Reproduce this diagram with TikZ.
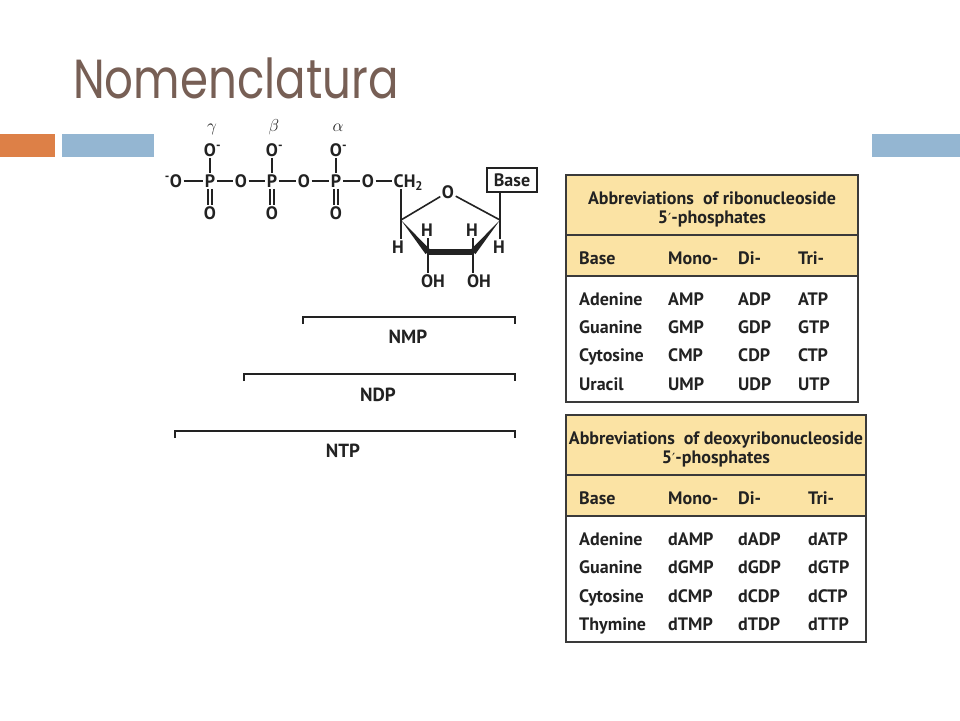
\documentclass[tikz,border=0pt]{standalone}
\usepackage{fontspec}
\setmainfont{PT Sans}
\newfontfamily\titlefont{Poppins}[FakeStretch=0.82]
\newfontfamily\dvfont{DejaVu Sans}
\newcommand{\pr}{{\dvfont\fontsize{14}{14}\selectfont\mdseries ′}}
\usetikzlibrary{calc}
\definecolor{orangebar}{HTML}{DD8047}
\definecolor{bluebar}{HTML}{94B6D2}
\definecolor{titlec}{HTML}{775F55}
\definecolor{tabfill}{HTML}{FBE3A4}
\definecolor{tabline}{HTML}{3A3A3A}
\definecolor{ink}{HTML}{222222}
\tikzset{
  lab/.style={font=\fontsize{18}{20}\selectfont\bfseries, text=ink, inner sep=1.5pt, text height=12.5pt, text depth=0pt},
  greek/.style={font=\fontsize{19}{20}\selectfont, text=ink, inner sep=0pt},
  bond/.style={draw=ink, line width=1.6pt},
  bracket/.style={draw=ink, line width=1.8pt},
  brlab/.style={font=\fontsize{19}{20}\selectfont\bfseries, text=ink, text height=13pt, text depth=0pt, inner sep=0pt},
  tabbox/.style={draw=tabline, line width=1.8pt},
  ttitle/.style={font=\fontsize{18}{19}\selectfont\bfseries, text=ink, inner sep=0pt, text height=12.5pt, text depth=0pt},
  tc/.style={font=\fontsize{18}{20}\selectfont\bfseries, text=ink, inner sep=0pt, text height=12.5pt, text depth=0pt, anchor=west}
}
\begin{document}
\begin{tikzpicture}[x=1pt,y=-1pt]
\useasboundingbox (0,0) rectangle (960,720);
\fill[white] (0,0) rectangle (960,720);
% bars
\fill[orangebar] (0,134) rectangle (55,157);
\fill[bluebar] (62,134) rectangle (154,157);
\fill[bluebar] (872,134) rectangle (960,157);
% title
\node[anchor=base west, inner sep=0, text depth=0pt, font=\titlefont\fontsize{55}{60}\selectfont, text=titlec] (title) at (73,98) {Nomenclatura};
% greek
\node[greek] (gam) at (212,129) {$\gamma$};
\node[greek] (bet) at (274,127) {$\beta$};
\node[greek] (alp) at (338,128) {$\alpha$};
% top O-
\node[lab] (O1t) at (210,150) {O\rlap{\textsuperscript{-}}};
\node[lab] (O2t) at (272,150) {O\rlap{\textsuperscript{-}}};
\node[lab] (O3t) at (336,150) {O\rlap{\textsuperscript{-}}};
% main row
\node[lab] (Om) at (176,181) {\llap{\textsuperscript{-}}O};
\node[lab] (P1) at (210,181) {P};
\node[lab] (O12) at (241,181) {O};
\node[lab] (P2) at (272,181) {P};
\node[lab] (O23) at (304,181) {O};
\node[lab] (P3) at (336,181) {P};
\node[lab] (O5) at (368,181) {O};
\node[lab, anchor=west] (CH) at (392,181) {CH\textsubscript{2}};
% bottom O
\node[lab] (O1b) at (210,213) {O};
\node[lab] (O2b) at (272,213) {O};
\node[lab] (O3b) at (336,213) {O};
% bonds
\draw[bond] (Om) -- (P1) -- (O12) -- (P2) -- (O23) -- (P3) -- (O5) -- (CH);
\foreach \t/\p/\b in {O1t/P1/O1b, O2t/P2/O2b, O3t/P3/O3b}{
  \draw[bond] (\t) -- (\p);
  \draw[bond] ([xshift=-2pt]\p.south) -- ([xshift=-2pt]\b.north);
  \draw[bond] ([xshift=2pt]\p.south) -- ([xshift=2pt]\b.north);
}
% ring
\coordinate (C4) at (401,220);
\coordinate (C1) at (500,220);
\coordinate (C3) at (428,252);
\coordinate (C2) at (473,252);
\node[lab] (rO) at (448,192) {O};
\draw[bond] (C4 |- CH.south) -- (C4);
\draw[bond] (C4) -- (rO) -- (C1);
\fill[ink] (C4) -- ($(C3)!3.2pt!90:(C4)$) -- ($(C3)!3.2pt!-90:(C4)$) -- cycle;
\fill[ink] (C1) -- ($(C2)!3.2pt!90:(C1)$) -- ($(C2)!3.2pt!-90:(C1)$) -- cycle;
\draw[draw=ink, line width=6pt] (C3) -- (C2);
\node[lab] (H4) at (398,247) {H};
\node[lab] (H3) at (427,230) {H};
\node[lab] (H2) at (472,230) {H};
\node[lab] (H1) at (499,247) {H};
\node[lab] (OH3) at (433,281) {OH};
\node[lab] (OH2) at (479,281) {OH};
\draw[bond] (C4) -- (C4 |- H4.north);
\draw[bond] (C1) -- (C1 |- H1.north);
\draw[bond] (C3) -- (C3 |- H3.south);
\draw[bond] (C2) -- (C2 |- H2.south);
\draw[bond] (C3) -- (C3 |- OH3.north);
\draw[bond] (C2) -- (C2 |- OH2.north);
\node[lab, draw=ink, line width=1.3pt, minimum width=50pt, minimum height=24pt] (base) at (512,180) {Base};
\draw[bond] (C1 |- base.south) -- (C1);
% brackets
\coordinate (nmpL) at (303,317); \coordinate (nmpR) at (515,317);
\coordinate (ndpL) at (244,374); \coordinate (ndpR) at (515,374);
\coordinate (ntpL) at (175,431); \coordinate (ntpR) at (515,431);
\foreach \L/\R in {nmpL/nmpR, ndpL/ndpR, ntpL/ntpR}{
  \draw[bracket] ([yshift=-7pt]\L) -- (\L) -- (\R) -- ([yshift=-7pt]\R);
}
\node[brlab] (nmp) at (408,337) {NMP};
\node[brlab] (ndp) at (378,395) {NDP};
\node[brlab] (ntp) at (343,451) {NTP};
% table 1
\fill[tabfill] (566,175) rectangle (858,276);
\draw[tabbox] (566,175) rectangle (858,402);
\draw[tabbox] (566,235) -- (858,235);
\draw[tabbox] (566,276) -- (858,276);
\node[ttitle] (t1a) at (712,198) {Abbreviations\ \ of ribonucleoside};
\node[ttitle] (t1b) at (712,217) {5\pr-phosphates};
\node[tc] (h1a) at (579,258) {Base};
\node[tc] (h1b) at (668,258) {Mono-};
\node[tc] (h1c) at (738,258) {Di-};
\node[tc] (h1d) at (798,258) {Tri-};
\foreach \y/\b/\l in {299/Adenine/A, 327/Guanine/G, 355/Cytosine/C, 384/Uracil/U}{
  \node[tc] at (579,\y) {\b};
  \node[tc] at (668,\y) {\l MP};
  \node[tc] at (738,\y) {\l DP};
  \node[tc] at (798,\y) {\l TP};
}
% table 2
\fill[tabfill] (566,415) rectangle (866,516);
\draw[tabbox] (566,415) rectangle (866,642);
\draw[tabbox] (566,475) -- (866,475);
\draw[tabbox] (566,516) -- (866,516);
\node[ttitle] (t2a) at (716,438) {Abbreviations\ \ of deoxyribonucleoside};
\node[ttitle] (t2b) at (716,457) {5\pr-phosphates};
\node[tc] (h2a) at (579,498) {Base};
\node[tc] (h2b) at (668,498) {Mono-};
\node[tc] (h2c) at (738,498) {Di-};
\node[tc] (h2d) at (808,498) {Tri-};
\foreach \y/\b/\l in {539/Adenine/A, 567/Guanine/G, 596/Cytosine/C, 624/Thymine/T}{
  \node[tc] at (579,\y) {\b};
  \node[tc] at (668,\y) {d\l MP};
  \node[tc] at (738,\y) {d\l DP};
  \node[tc] at (808,\y) {d\l TP};
}
\end{tikzpicture}
\end{document}
